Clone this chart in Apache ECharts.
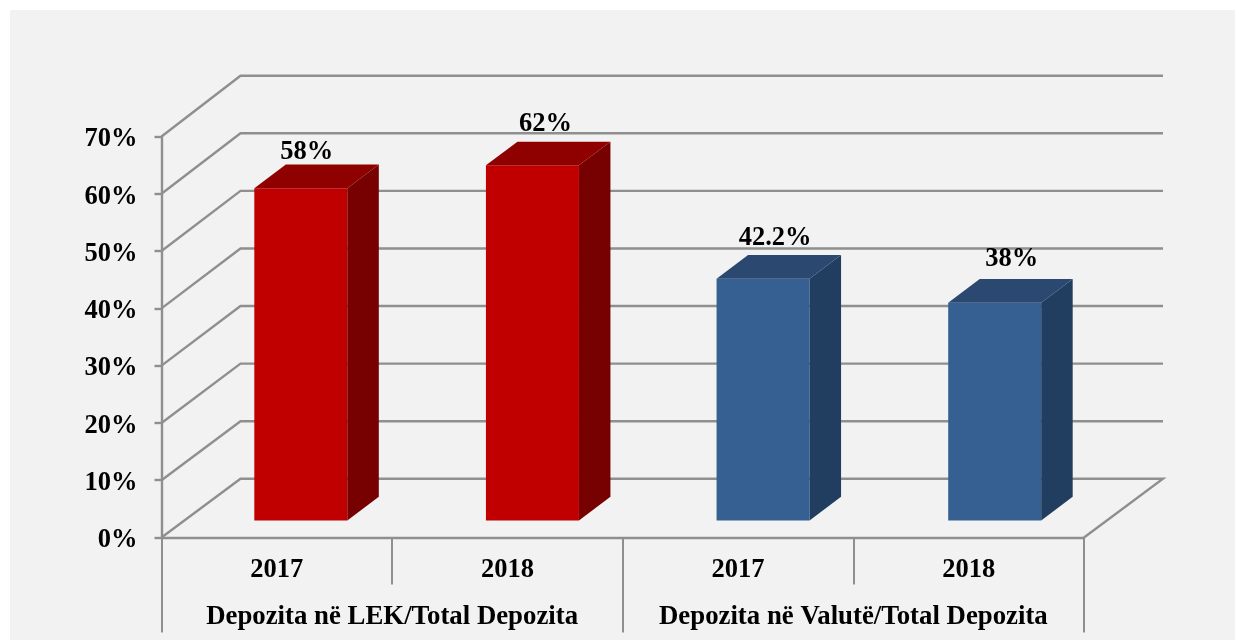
<!DOCTYPE html>
<html>
<head>
<meta charset="utf-8">
<style>
html,body{margin:0;padding:0;background:#fff;width:1235px;height:641px;overflow:hidden}
#panel{position:absolute;left:10px;top:10px;width:1225px;height:630px;background:#f2f2f2}
#chart{position:absolute;left:0;top:0;width:1235px;height:641px}
</style>
<script src="https://cdn.jsdelivr.net/npm/echarts@6/dist/echarts.min.js"></script>
</head>
<body>
<div id="panel"></div>
<div id="chart"></div>
<script>
const years = ['2017', '2018', '2017', '2018'];
const groups = ['Depozita në LEK/Total Depozita', 'Depozita në Valutë/Total Depozita'];
const values = [58, 62, 42.2, 38];
const yTicks = [0, 10, 20, 30, 40, 50, 60, 70];

const FONT = '"Liberation Serif","Times New Roman",serif';
const LINE = '#8f8f8f';
const WALL_DX = 79;
const WALL_RISE_BASE = 58.7;
const WALL_RISE_PER_TICK = 0.03;
const BAR_SHIFT = [24, -17];
const barNudgeX = [0, 1, 1, 2];
const BAR_W = 93;
const BAR_D = [31.5, -23.7];
const labelNudge = [[6, -36], [13, -41], [12, -41], [17, -44]];
const faces = [
  { front: '#c00000', top: '#8f0000', side: '#770000' },
  { front: '#c00000', top: '#8f0000', side: '#770000' },
  { front: '#366092', top: '#2b4970', side: '#213e60' },
  { front: '#366092', top: '#2b4970', side: '#213e60' }
];

function renderWall(params, api) {
  const tick = api.value(1);
  const step = api.size([1, 0])[0];
  const p = api.coord([0, tick]);
  const x0 = p[0] - step / 2;
  const x1 = x0 + step * years.length;
  const y = p[1];
  const rise = WALL_RISE_BASE + tick * WALL_RISE_PER_TICK;
  const pts = [[x0, y], [x0 + WALL_DX, y - rise], [x1 + WALL_DX, y - rise]];
  if (tick === 0) pts.push([x1, y]);
  return {
    type: 'polyline',
    silent: true,
    shape: { points: pts },
    style: { fill: 'none', stroke: LINE, lineWidth: 2.4 }
  };
}

function renderBar(params, api) {
  const i = api.value(0);
  const v = api.value(1);
  const base = api.coord([i, 0]);
  const top = api.coord([i, v]);
  const cx = base[0] + BAR_SHIFT[0] + barNudgeX[i];
  const l = cx - BAR_W / 2;
  const r = l + BAR_W;
  const b = base[1] + BAR_SHIFT[1];
  const t = top[1] + BAR_SHIFT[1];
  const c = faces[i];
  const dx = BAR_D[0], dy = BAR_D[1];
  return {
    type: 'group',
    silent: true,
    children: [
      { type: 'polygon', shape: { points: [[l, t], [r, t], [r, b], [l, b]] }, style: { fill: c.front } },
      { type: 'polygon', shape: { points: [[r, t], [r + dx, t + dy], [r + dx, b + dy], [r, b]] }, style: { fill: c.side } },
      { type: 'polygon', shape: { points: [[l, t], [l + dx, t + dy], [r + dx, t + dy], [r, t]] }, style: { fill: c.top } },
      {
        type: 'text',
        style: {
          x: cx + labelNudge[i][0],
          y: t + labelNudge[i][1],
          text: v + '%',
          font: 'bold 26.5px ' + FONT,
          fill: '#000',
          align: 'center',
          verticalAlign: 'middle'
        }
      }
    ]
  };
}

const chart = echarts.init(document.getElementById('chart'), null, { renderer: 'canvas' });
chart.setOption({
  animation: false,
  backgroundColor: 'transparent',
  grid: { left: 161.5, top: 136.5, width: 922.5, height: 401, containLabel: false },
  xAxis: [
    {
      type: 'category',
      data: years,
      position: 'bottom',
      axisLine: { show: true, lineStyle: { color: LINE, width: 2.4 } },
      axisTick: { show: true, alignWithLabel: false, length: 47, lineStyle: { color: LINE, width: 2 } },
      axisLabel: { color: '#000', fontFamily: FONT, fontWeight: 'bold', fontSize: 26.5, margin: 19, interval: 0 }
    },
    {
      type: 'category',
      data: groups,
      position: 'bottom',
      axisLine: { show: false },
      axisTick: { show: true, alignWithLabel: false, length: 95, lineStyle: { color: LINE, width: 2 } },
      axisLabel: { color: '#000', fontFamily: FONT, fontWeight: 'bold', fontSize: 26.8, margin: 66, interval: 0, hideOverlap: false }
    }
  ],
  yAxis: {
    type: 'value',
    min: 0,
    max: 70,
    interval: 10,
    axisLine: { show: true, lineStyle: { color: LINE, width: 2.4 } },
    axisTick: { show: true, length: 7, lineStyle: { color: LINE, width: 2.4 } },
    splitLine: { show: false },
    axisLabel: { color: '#000', fontFamily: FONT, fontWeight: 'bold', fontSize: 26.5, margin: 24, verticalAlign: 'top', lineHeight: 6, formatter: '{value}%' }
  },
  series: [
    {
      type: 'custom',
      name: 'wall',
      xAxisIndex: 0,
      yAxisIndex: 0,
      renderItem: renderWall,
      encode: { x: 0, y: 1 },
      data: yTicks.map(t => [0, t]),
      z: 1,
      silent: true
    },
    {
      type: 'custom',
      name: 'bars',
      xAxisIndex: 0,
      yAxisIndex: 0,
      renderItem: renderBar,
      encode: { x: 0, y: 1 },
      data: values.map((v, i) => [i, v]),
      z: 2,
      silent: true
    }
  ]
});
</script>
</body>
</html>
